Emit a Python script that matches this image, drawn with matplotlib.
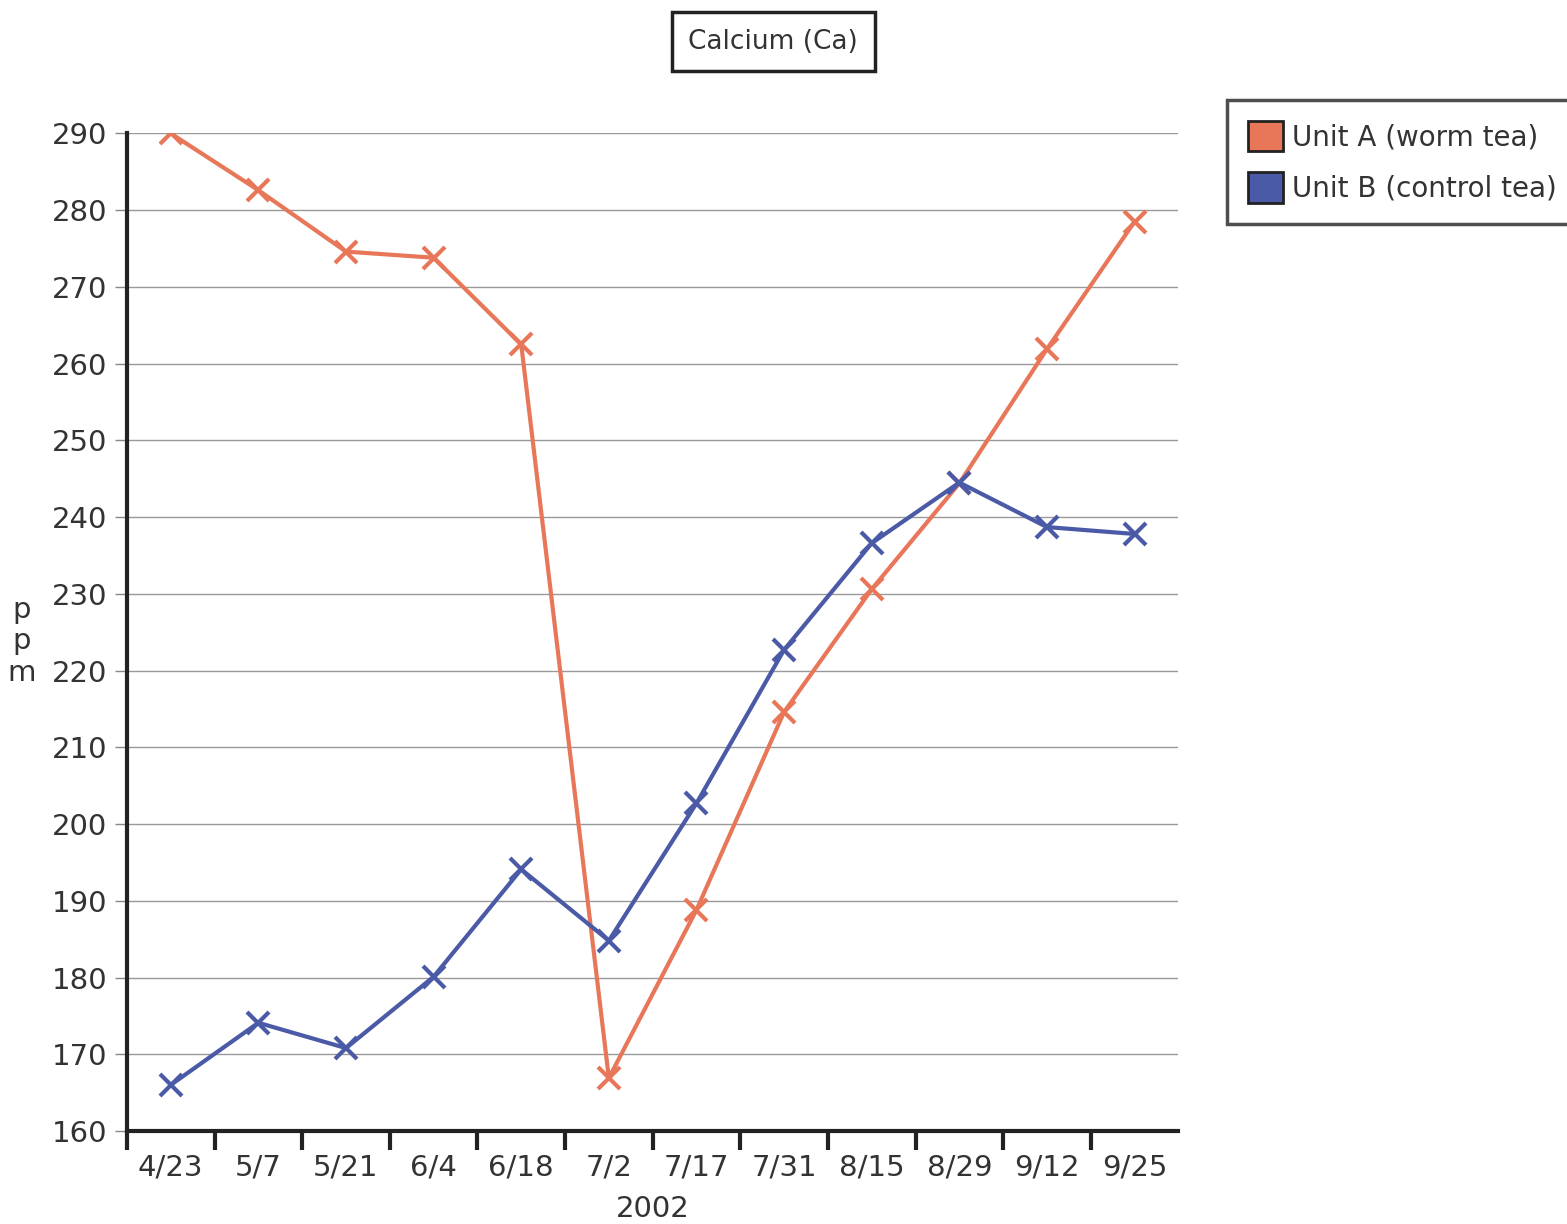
import numpy as np
import matplotlib.pyplot as plt
from matplotlib.patches import Patch

dates = ['4/23', '5/7', '5/21', '6/4', '6/18', '7/2', '7/17', '7/31', '8/15', '8/29', '9/12', '9/25']
unit_a = [290.0, 282.6, 274.6, 273.8, 262.5, 166.9, 188.8, 214.6, 230.6, 244.4, 261.9, 278.5]
unit_b = [166.0, 174.1, 170.8, 180.1, 194.1, 184.8, 202.7, 222.7, 236.6, 244.5, 238.7, 237.8]
y_ticks = list(range(160, 291, 10))

color_a = '#E8775A'
color_b = '#4A5AA6'
text_color = '#333333'

fig = plt.figure(figsize=(15.67, 12.24), dpi=100)
ax = fig.add_axes([0.081, 0.076, 0.671, 0.815])

x = np.arange(len(dates))
ax.plot(x, unit_a, color=color_a, lw=3, marker='x', ms=16, mew=3, zorder=3)
ax.plot(x, unit_b, color=color_b, lw=3, marker='x', ms=16, mew=3, zorder=3)

ax.set_xlim(-0.5, len(dates) - 0.5)
ax.set_ylim(160, 290)
ax.set_yticks(y_ticks)
ax.tick_params(axis='y', labelsize=21, labelcolor=text_color, length=9, width=1, color='#888888', pad=5)

# category labels centred, tick marks on the boundaries
ax.set_xticks(x)
ax.set_xticklabels(dates)
ax.tick_params(axis='x', which='major', length=0, labelsize=21, labelcolor=text_color, pad=16)
ax.set_xticks(np.arange(-0.5, len(dates) - 1), minor=True)
ax.tick_params(axis='x', which='minor', length=14, width=3, color='#222222', direction='out')

ax.grid(axis='y', color='#999999', lw=1)
ax.set_axisbelow(True)
for side in ['top', 'right']:
    ax.spines[side].set_visible(False)
for side in ['left', 'bottom']:
    ax.spines[side].set_linewidth(3)
    ax.spines[side].set_color('#222222')

ax.set_xlabel('2002', fontsize=21, color=text_color, labelpad=10)
fig.text(0.014, 0.476, 'p\np\nm', fontsize=21, color=text_color, ha='center', va='center', linespacing=1.15)

fig.text(0.4935, 0.966, 'Calcium (Ca)', fontsize=19, color=text_color, ha='center', va='center',
         bbox=dict(boxstyle='square,pad=0.62', fc='white', ec='#222222', lw=2.5))

handles = [Patch(facecolor=color_a, edgecolor='#222222', lw=2, label='Unit A (worm tea)'),
           Patch(facecolor=color_b, edgecolor='#222222', lw=2, label='Unit B (control tea)')]
leg = fig.legend(handles=handles, loc='upper left', bbox_to_anchor=(0.783, 0.918), fontsize=20,
                 frameon=True, fancybox=False, edgecolor='#222222', handlelength=1.25, handleheight=1.3,
                 handletextpad=0.35, borderpad=0.75, labelspacing=0.75, borderaxespad=0)
leg.get_frame().set_linewidth(2.5)
for t in leg.get_texts():
    t.set_color(text_color)

fig.savefig('out.png', dpi=100)
